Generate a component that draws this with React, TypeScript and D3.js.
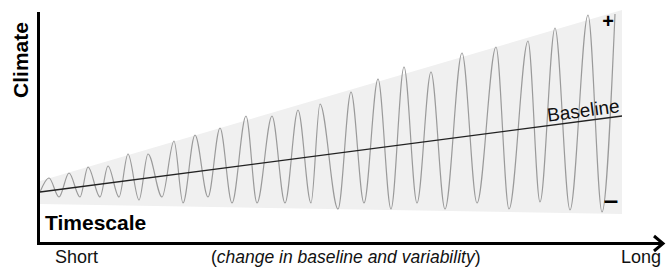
import React from 'react';
import { scaleLinear, line, area, curveMonotoneX, curveLinear } from 'd3';

// extrema of the oscillating climate signal
const timescale = [
  0, 4.5, 9.5, 14.5, 20, 24, 30, 34, 39.5, 44, 49.5, 54, 61, 67, 71.5, 77.5,
  84, 90, 96, 103, 108.5, 116, 122.5, 129, 135.5, 140, 149, 155.5, 162, 169,
  175.5, 182, 188.5, 195.5, 202.5, 211, 218.5, 228, 234.5, 244, 250, 257.5,
  265, 274, 281, 287.5,
];
const climate = [
  24, 31, 21.5, 33.5, 21.5, 36.5, 21.5, 37, 21.5, 43, 20, 43, 21.5, 49.5,
  18.5, 52.5, 21.5, 56, 18.5, 62, 18.5, 62, 18.5, 65, 18.5, 68, 15.5, 74,
  18.5, 80.5, 15.5, 86.5, 18.5, 84, 15.5, 93.5, 18.5, 96.5, 15.5, 99.5, 19,
  106, 15, 112.5, 14, 113,
];

const baselineTime = [0, 291];
const baselineClimate = [24, 62];

const envelopeTime = [0, 291];
const envelopeUpper = [29.5, 115];
const envelopeLower = [18, 13];

const W = 667;
const H = 269;

function App() {
  const x = scaleLinear().domain([0, 291]).range([40, 622]);
  const y = scaleLinear().domain([0, 115]).range([240, 10]);

  const wave = line<number>()
    .x((d, i) => x(timescale[i]))
    .y((d) => y(d))
    .curve(curveMonotoneX)(climate);

  const envelope = area<number>()
    .x((d) => x(d))
    .y0((d, i) => y(envelopeLower[i]))
    .y1((d, i) => y(envelopeUpper[i]))
    .curve(curveLinear)(envelopeTime);

  const base = line<number>()
    .x((d) => x(d))
    .y((d, i) => y(baselineClimate[i]))(baselineTime);

  // label sits on the baseline, tilted with it
  const labelT = 254;
  const slope =
    (baselineClimate[1] - baselineClimate[0]) / (baselineTime[1] - baselineTime[0]);
  const labelY = y(baselineClimate[0] + slope * labelT);
  const angle =
    (Math.atan2(
      y(baselineClimate[1]) - y(baselineClimate[0]),
      x(baselineTime[1]) - x(baselineTime[0])
    ) *
      180) /
    Math.PI;

  const font = '"Liberation Sans", Arial, sans-serif';

  return (
    <svg
      width={W}
      height={H}
      style={{ position: 'absolute', left: 0, top: 0, background: '#fff' }}
      fontFamily={font}
    >
      <path d={envelope || ''} fill="#f0f0f0" />
      <path d={wave || ''} fill="none" stroke="#9a9a9a" strokeWidth={1.2} />
      <path d={base || ''} fill="none" stroke="#222" strokeWidth={1.3} />

      <text
        transform={`translate(${x(labelT)},${labelY - 4}) rotate(${angle})`}
        fontSize={19}
        fill="#111"
      >
        Baseline
      </text>

      <text x={608} y={28} fontSize={20} fontWeight="bold" textAnchor="middle">
        +
      </text>
      <text x={611} y={209} fontSize={26} fontWeight="bold" textAnchor="middle">
        –
      </text>

      {/* axes */}
      <line x1={38.5} y1={12} x2={38.5} y2={245} stroke="#000" strokeWidth={3} />
      <line x1={37} y1={243.5} x2={662} y2={243.5} stroke="#000" strokeWidth={3} />
      <path
        d="M654,236 L663,243.5 L654,251"
        fill="none"
        stroke="#000"
        strokeWidth={3}
      />

      <text
        transform="translate(28,60) rotate(-90)"
        fontSize={21}
        fontWeight="bold"
        textAnchor="middle"
      >
        Climate
      </text>
      <text x={45} y={230} fontSize={21} fontWeight="bold">
        Timescale
      </text>

      <text x={55} y={263} fontSize={18} fill="#111">
        Short
      </text>
      <text x={211} y={263} fontSize={17.5} fill="#111">
        (<tspan fontStyle="italic">change in baseline and variability</tspan>)
      </text>
      <text x={661} y={263} fontSize={18} fill="#111" textAnchor="end">
        Long
      </text>
    </svg>
  );
}

export default App;
